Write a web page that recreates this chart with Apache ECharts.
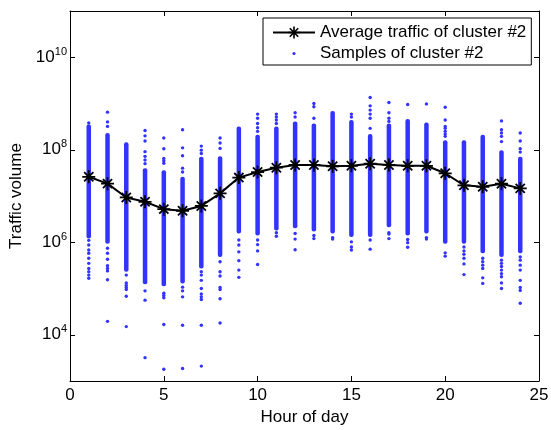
<!DOCTYPE html>
<html>
<head>
<meta charset="utf-8">
<script src="https://cdn.jsdelivr.net/npm/echarts@6/dist/echarts.min.js"></script>
<style>
  html, body { margin: 0; padding: 0; background: #fff; }
  #chart { width: 551px; height: 430px; }
</style>
</head>
<body>
<div id="chart"></div>
<script>
// hour of day
const hours = [1, 2, 3, 4, 5, 6, 7, 8, 9, 10, 11, 12, 13, 14, 15, 16, 17, 18, 19, 20, 21, 22, 23, 24];
// average traffic of cluster #2
const avgTraffic = [2.6e7, 1.85e7, 9.3e6, 7.5e6, 5.2e6, 4.8e6, 6.1e6, 1.14e7, 2.5e7, 3.3e7, 4.1e7, 4.7e7,
    4.7e7, 4.4e7, 4.5e7, 5.0e7, 4.7e7, 4.5e7, 4.5e7, 3.1e7, 1.7e7, 1.58e7, 1.84e7, 1.46e7];
// dense part of the samples (top / bottom of the solid column)
const sampleTop = [3.5e8, 2.3e8, 1.45e8, 4.0e7, 3.6e7, 2.6e7, 7.1e7, 7.2e7, 3.2e8, 2.1e8, 3.2e8, 4.1e8,
    3.7e8, 6.9e8, 4.4e8, 2.2e8, 3.7e8, 4.6e8, 3.9e8, 1.6e8, 1.6e8, 2.1e8, 9.8e7, 7.1e7];
const sampleBottom = [1.2e6, 9.3e5, 2.3e5, 1.23e5, 1.12e5, 1.29e5, 2.7e5, 4.8e5, 1.55e6, 1.4e6, 1.8e6, 2.0e6,
    1.7e6, 1.55e6, 1.3e6, 1.3e6, 2.1e6, 1.4e6, 1.55e6, 9.3e5, 9.3e5, 5.8e5, 4.8e5, 5.8e5];
// single samples away from the dense column, per hour
const sampleOutliers = [
    [3.8e8, 1.1e6, 8.7e5, 6.8e5, 5.8e5, 4.5e5, 3.5e5, 2.7e5, 2.3e5, 1.95e5, 1.66e5],
    [6.5e8, 4.0e8, 3.2e8, 7.4e5, 5.8e5, 4.3e5, 3.1e5, 2.7e5, 2.4e5, 1.55e5, 1.95e4],
    [1.95e5, 1.32e5, 1.17e5, 1.05e5, 9.5e4, 6.8e4, 1.5e4],
    [2.6e8, 2.0e8, 1.55e8, 9.1e7, 7.2e7, 6.0e7, 5.0e7, 8.9e4, 5.6e4, 3.2e3],
    [1.8e8, 1.05e8, 6.5e7, 5.8e7, 5.1e7, 7.9e4, 7.1e4, 6.3e4, 1.66e4, 1.8e3],
    [2.7e8, 1.1e8, 7.4e7, 4.0e7, 3.3e7, 1.07e5, 8.9e4, 6.6e4, 1.6e4, 1.86e3],
    [1.2e8, 9.8e7, 8.3e7, 2.3e5, 1.95e5, 1.5e5, 1.0e5, 7.6e4, 6.6e4, 5.8e4, 1.6e4, 2.1e3],
    [1.8e8, 1.4e8, 1.07e8, 3.8e5, 2.3e5, 1.86e5, 1.05e5, 9.5e4, 6.0e4, 1.8e4],
    [1.12e6, 8.7e5, 6.2e5, 4.0e5, 2.5e5, 1.74e5],
    [5.9e8, 4.8e8, 3.7e8, 3.0e8, 2.5e8, 1.12e6, 8.9e5, 6.5e5, 3.3e5],
    [5.9e8, 5.1e8, 4.4e8, 3.7e8, 1.6e6, 1.35e6],
    [6.3e8, 5.1e8, 1.55e6, 1.17e6, 6.9e5],
    [1.0e9, 8.5e8, 4.8e8, 1.4e6, 1.2e6],
    [1.26e6, 1.17e6],
    [5.9e8, 5.1e8, 1.02e6, 7.9e5, 6.8e5],
    [1.35e9, 8.9e8, 7.2e8, 5.9e8, 4.8e8, 2.9e8, 1.12e6, 7.1e5],
    [1.05e9, 6.3e8, 4.8e8, 4.1e8, 1.6e6, 1.5e6, 1.2e6],
    [9.5e8, 1.15e6, 9.8e5, 7.8e5],
    [9.8e8, 1.26e6, 1.17e6],
    [8.3e8, 4.4e8, 3.2e8, 2.9e8, 2.5e8, 2.2e8, 1.95e8, 5.9e5, 5.0e5],
    [7.9e5, 6.5e5, 5.5e5, 4.5e5, 3.4e5, 2.0e5],
    [4.5e5, 3.8e5, 3.2e5, 2.7e5, 1.7e5, 1.29e5],
    [4.2e8, 2.7e8, 2.3e8, 1.95e8, 1.5e8, 4.1e5, 3.5e5, 3.0e5, 2.5e5, 2.1e5, 1.8e5, 1.32e5, 1.0e5],
    [2.3e8, 1.55e8, 1.05e8, 8.9e7, 4.8e5, 4.1e5, 3.2e5, 2.5e5, 1.5e5, 1.05e5, 9.1e4, 4.8e4]
];
const yTickValues = [1e4, 1e6, 1e8, 1e10];

const FONT = '"Liberation Sans", Arial, Helvetica, sans-serif';
const BLUE = '#3333ff';
// MATLAB-like asterisk marker, four thin bars
const ASTERISK = 'path://M1,10.5L23,10.5L23,13.5L1,13.5Z M10.5,1L13.5,1L13.5,23L10.5,23Z ' +
    'M5.283,3.161L20.839,18.717L18.717,20.839L3.161,5.283Z ' +
    'M3.161,18.717L18.717,3.161L20.839,5.283L5.283,20.839Z';
const DOT_ICON = 'image://data:image/svg+xml;charset=utf-8,' + encodeURIComponent(
    '<svg xmlns="http://www.w3.org/2000/svg" width="42" height="15"><circle cx="21" cy="7.5" r="1.6" fill="' + BLUE + '"/></svg>');

let columns = hours.map((h, i) => [h, sampleTop[i], sampleBottom[i]]);
let dots = [];
hours.forEach((h, i) => { sampleOutliers[i].forEach(v => dots.push([h, v])); });
let avgLine = hours.map((h, i) => [h, avgTraffic[i]]);

let chart = echarts.init(document.getElementById('chart'));

let axisCommon = {
    axisLine: { show: true, onZero: false, lineStyle: { color: '#000', width: 1 } },
    splitLine: { show: false },
};

chart.setOption({
    animation: false,
    backgroundColor: '#fff',
    textStyle: { fontFamily: FONT },
    grid: { left: 70, right: 12, top: 11, bottom: 49, containLabel: false, outerBoundsMode: 'none' },
    legend: {
        orient: 'vertical',
        left: 263,
        top: 18,
        padding: [6, 5, 3, 9],
        itemGap: 4,
        itemWidth: 42,
        itemHeight: 15,
        borderColor: '#000',
        borderWidth: 1,
        borderRadius: 0,
        backgroundColor: '#fff',
        textStyle: { color: '#000', fontSize: 17, fontFamily: FONT },
        data: [
            { name: 'Average traffic of cluster #2' },
            { name: 'Samples of cluster #2', icon: DOT_ICON },
        ],
    },
    xAxis: [
        {
            ...axisCommon,
            type: 'value', min: 0, max: 25, interval: 5, position: 'bottom',
            axisTick: { show: true, inside: true, length: 5, lineStyle: { color: '#000' } },
            axisLabel: { color: '#000', fontSize: 17, margin: 6, fontFamily: FONT },
            name: 'Hour of day', nameLocation: 'middle', nameGap: 27,
            nameTextStyle: { color: '#000', fontSize: 17, fontFamily: FONT },
        },
        {
            ...axisCommon,
            type: 'value', min: 0, max: 25, interval: 5, position: 'top',
            axisTick: { show: true, inside: true, length: 5, lineStyle: { color: '#000' } },
            axisLabel: { show: false },
        },
    ],
    yAxis: [
        {
            ...axisCommon,
            type: 'log', logBase: 10, min: 1e3, max: 1e11, position: 'left',
            axisTick: { show: true, inside: true, length: 5, customValues: yTickValues, lineStyle: { color: '#000' } },
            axisLabel: {
                customValues: yTickValues,
                margin: 3,
                color: '#000',
                formatter: v => '{b|10}{e|' + Math.round(Math.log10(v)) + '}',
                rich: {
                    b: { fontSize: 17, color: '#000', fontFamily: FONT },
                    e: { fontSize: 11, color: '#000', fontFamily: FONT, padding: [0, 0, 11, 0] },
                },
            },
            name: 'Traffic volume', nameLocation: 'middle', nameGap: 42,
            nameTextStyle: { color: '#000', fontSize: 17, fontFamily: FONT },
        },
        {
            ...axisCommon,
            type: 'log', logBase: 10, min: 1e3, max: 1e11, position: 'right',
            axisTick: { show: true, inside: true, length: 5, customValues: yTickValues, lineStyle: { color: '#000' } },
            axisLabel: { show: false },
        },
    ],
    series: [
        {
            // solid part of each hour's sample column
            type: 'custom',
            silent: true,
            data: columns,
            encode: { x: 0, y: [1, 2] },
            renderItem: (params, api) => {
                let p1 = api.coord([api.value(0), api.value(1)]);
                let p2 = api.coord([api.value(0), api.value(2)]);
                return {
                    type: 'rect',
                    shape: { x: p1[0] - 2.25, y: p1[1], width: 4.5, height: p2[1] - p1[1], r: 2 },
                    style: { fill: BLUE, opacity: 1 },
                };
            },
            z: 1,
        },
        {
            name: 'Samples of cluster #2',
            type: 'scatter',
            data: dots,
            symbol: 'circle',
            symbolSize: 3.4,
            itemStyle: { color: BLUE, opacity: 1 },
            z: 2,
        },
        {
            name: 'Average traffic of cluster #2',
            type: 'line',
            data: avgLine,
            symbol: ASTERISK,
            symbolSize: 13,
            showAllSymbol: true,
            lineStyle: { color: '#000', width: 2 },
            itemStyle: { color: '#000', opacity: 1 },
            z: 3,
        },
    ],
});
</script>
</body>
</html>
